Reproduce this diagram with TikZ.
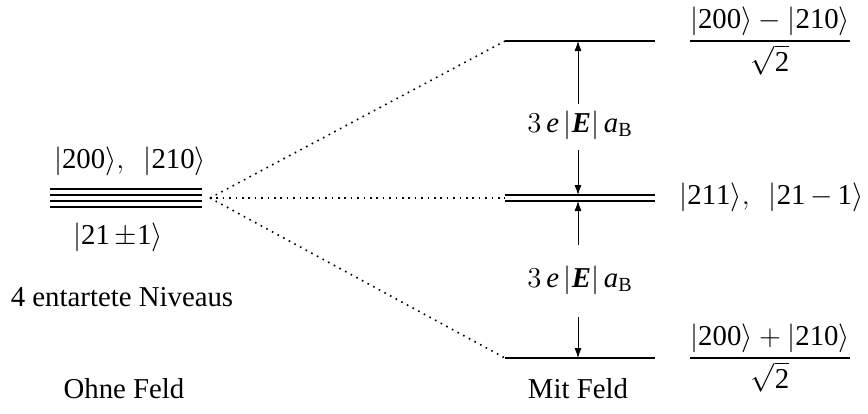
\documentclass[tikz,border=0pt]{standalone}
\usepackage{amsmath}
\usepackage{fontspec}
\setmainfont{Liberation Serif}
\usetikzlibrary{arrows.meta,calc}

\newcommand{\ketst}[1]{|\mathrm{#1}\rangle}
\newcommand{\splitE}{3\,\mathit{e}\,|\text{\bfseries\itshape E}|\,\mathit{a}_{\mathrm{B}}}

\tikzset{
  lvl/.style={line width=0.9pt},
  lbl/.style={inner sep=1pt},
  tie/.style={line width=0.8pt,dash pattern=on 0.8pt off 2.4pt},
  gaparrow/.style={-{Latex[length=5pt,width=3.5pt]}},
}

\begin{document}
\begin{tikzpicture}[x={(0.5pt,0)},y={(0,-0.5pt)},font=\fontsize{14.4}{17}\selectfont]
  \useasboundingbox (0,0) rectangle (868,413);
  % Ohne Feld: vier entartete Niveaus
  \foreach \yy in {189,195,201,207}
    \draw[lvl] (50,\yy) -- (202,\yy);
  \coordinate (lstack) at (210,198);
  \node[lbl] (ltop) at (130,161) {$\ketst{200},\ \ \ketst{210}$};
  \node[lbl] (lbot) at (118,237) {$|\mathrm{21}\,{\pm}\mathrm{1}\rangle$};
  \node[lbl] (lnote) at (122,297) {4 entartete Niveaus};
  \node[lbl] (lname) at (124,389) {Ohne Feld};
  % Mit Feld
  \draw[lvl] (505,41) coordinate (up) -- (655,41);
  \draw[lvl] (505,195) coordinate (mid) -- (655,195);
  \draw[lvl] (505,201) coordinate (midb) -- (655,201);
  \draw[lvl] (505,358) coordinate (low) -- (655,358);
  % Verbindungen
  \draw[tie] (lstack) -- (up);
  \draw[tie] (lstack) -- ($(mid)!0.5!(midb)$);
  \draw[tie] (lstack) -- (low);
  % Aufspaltung
  \node[lbl] (gapup) at (580,125) {$\splitE$};
  \node[lbl] (gaplow) at (580,280) {$\splitE$};
  \draw[gaparrow] (578,104) -- (578,41);
  \draw[gaparrow] (578,150) -- (578,195);
  \draw[gaparrow] (578,245) -- (578,201);
  \draw[gaparrow] (578,317) -- (578,358);
  \node[lbl] (mname) at (578,389) {Mit Feld};
  % Zustaende rechts
  \node[lbl] (rup) at (770,41) {$\dfrac{\ketst{200}-\ketst{210}}{\sqrt{\mathrm{2}}}$};
  \node[lbl,anchor=west] (rmid) at (677,197) {$\ketst{211},\ \ |\mathrm{21}\,{-}\,\mathrm{1}\rangle$};
  \node[lbl] (rlow) at (770,358) {$\dfrac{\ketst{200}+\ketst{210}}{\sqrt{\mathrm{2}}}$};
\end{tikzpicture}
\end{document}
